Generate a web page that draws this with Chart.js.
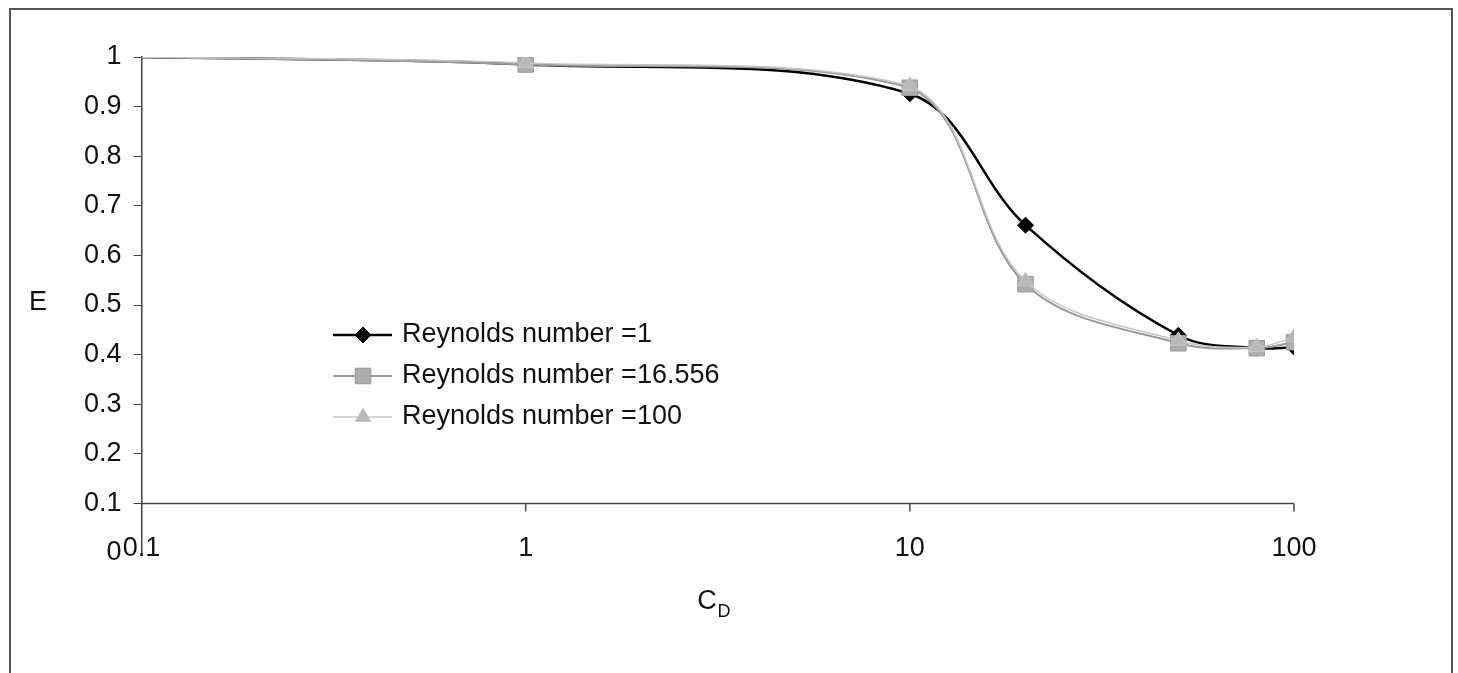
<!DOCTYPE html>
<html>
<head>
<meta charset="utf-8">
<script src="https://cdn.jsdelivr.net/npm/chart.js@4/dist/chart.umd.min.js"></script>
<style>
  html, body { margin: 0; padding: 0; background: #fff; }
  #wrap { position: relative; width: 1458px; height: 673px; overflow: hidden; }
  #frame { position: absolute; left: 9px; top: 8px; width: 1444px; height: 700px;
           border: 2px solid #555; box-sizing: border-box; pointer-events: none; }
</style>
</head>
<body>
<div id="wrap">
  <canvas id="chart" width="1458" height="673"></canvas>
  <div id="frame"></div>
</div>
<script>
// données
const cdValues = [0.1, 1, 10, 20, 50, 80, 100];
const eRe1 = [1, 0.985, 0.926, 0.661, 0.439, 0.413, 0.415];
const eRe16 = [1, 0.985, 0.938, 0.542, 0.423, 0.413, 0.425];
const eRe100 = [1, 0.988, 0.942, 0.548, 0.428, 0.415, 0.435];
const seriesNames = ['Reynolds number =1', 'Reynolds number =16.556', 'Reynolds number =100'];
const xTickValues = [0.1, 1, 10, 100];
const yAxisTitle = 'E';
const xAxisTitle = 'C';
const xAxisSub = 'D';

const FONT = '"Liberation Sans", Arial, sans-serif';

function toPoints(ys) {
    return cdValues.map((x, i) => ({ x: x, y: ys[i] }));
}

// pas de marqueur au premier point (caché par l'axe)
function markerRadius(r) {
    return ctx => ctx.dataIndex === 0 ? 0 : r;
}

const datasets = [
    {
        label: seriesNames[0],
        data: toPoints(eRe1),
        borderColor: '#000',
        backgroundColor: '#000',
        borderWidth: 2.5,
        pointStyle: 'rectRot',
        pointRadius: markerRadius(8),
        pointBorderWidth: 1,
        legendRadius: 8,
        order: 3
    },
    {
        label: seriesNames[1],
        data: toPoints(eRe16),
        borderColor: '#9a9a9a',
        backgroundColor: '#adadad',
        borderWidth: 2,
        pointStyle: 'rect',
        pointRadius: markerRadius(11),
        pointBorderWidth: 1,
        legendRadius: 11,
        order: 2
    },
    {
        label: seriesNames[2],
        data: toPoints(eRe100),
        borderColor: '#c6c6c6',
        backgroundColor: '#b8b8b8',
        borderWidth: 1.5,
        pointStyle: 'triangle',
        pointRadius: markerRadius(9),
        pointBorderWidth: 1,
        legendRadius: 9,
        order: 1
    }
];

// axe horizontal qui coupe à E = 0.1, étiquettes en bas (niveau E = 0)
const crossAxisPlugin = {
    id: 'crossAxis',
    beforeDatasetsDraw(chart) {
        const ctx = chart.ctx;
        const xs = chart.scales.x, ys = chart.scales.y;
        const y = ys.getPixelForValue(0.1);
        ctx.save();
        ctx.strokeStyle = '#444';
        ctx.lineWidth = 1.5;
        ctx.beginPath();
        ctx.moveTo(xs.getPixelForValue(xTickValues[0]), y);
        ctx.lineTo(xs.getPixelForValue(xTickValues[xTickValues.length - 1]), y);
        xTickValues.slice(1).forEach(v => {
            const px = xs.getPixelForValue(v);
            ctx.moveTo(px, y);
            ctx.lineTo(px, y + 8);
        });
        ctx.stroke();

        ctx.fillStyle = '#111';
        ctx.font = '27px ' + FONT;
        ctx.textAlign = 'center';
        ctx.textBaseline = 'middle';
        const ly = ys.getPixelForValue(0) - 4;
        xs.ticks.forEach(t => {
            ctx.fillText(String(t.value), xs.getPixelForValue(t.value), ly);
        });
        ctx.restore();
    }
};

// légende dans la zone du graphique + titres d'axes
const legendPlugin = {
    id: 'insideLegend',
    afterDraw(chart) {
        const ctx = chart.ctx;
        ctx.save();
        chart.data.datasets.forEach((ds, i) => {
            const y = 335 + i * 41;
            ctx.strokeStyle = ds.borderColor;
            ctx.lineWidth = ds.borderWidth;
            ctx.beginPath();
            ctx.moveTo(333, y);
            ctx.lineTo(392, y);
            ctx.stroke();
            ctx.fillStyle = ds.backgroundColor;
            ctx.lineWidth = 1;
            Chart.helpers.drawPoint(ctx, {
                pointStyle: ds.pointStyle, rotation: 0,
                radius: ds.legendRadius, borderWidth: 1
            }, 363, y);
            ctx.fillStyle = '#111';
            ctx.font = '27px ' + FONT;
            ctx.textBaseline = 'middle';
            ctx.textAlign = 'left';
            ctx.fillText(ds.label, 402, y);
        });

        ctx.fillStyle = '#111';
        ctx.font = '27px ' + FONT;
        ctx.textAlign = 'center';
        ctx.textBaseline = 'middle';
        ctx.fillText(yAxisTitle, 38, 303);
        ctx.fillText(xAxisTitle, 707, 602);
        ctx.font = '18px ' + FONT;
        ctx.fillText(xAxisSub, 724, 612);
        ctx.restore();
    }
};

new Chart(document.getElementById('chart'), {
    type: 'line',
    data: { datasets: datasets },
    options: {
        responsive: false,
        animation: false,
        layout: { padding: { left: 72, right: 164, top: 57, bottom: 112 } },
        plugins: {
            legend: { display: false },
            tooltip: { enabled: false }
        },
        elements: {
            line: { tension: 0.35, fill: false }
        },
        scales: {
            x: {
                type: 'logarithmic',
                min: 0.1,
                max: 100,
                afterBuildTicks: scale => {
                    scale.ticks = xTickValues.map(v => ({ value: v }));
                },
                grid: { display: false },
                border: { display: false },
                ticks: { display: false }
            },
            y: {
                min: 0,
                max: 1,
                grid: {
                    drawOnChartArea: false,
                    drawTicks: true,
                    tickLength: 8,
                    tickColor: ctx => ctx.tick && ctx.tick.value === 0 ? 'rgba(0,0,0,0)' : '#444'
                },
                border: { display: true, color: '#444', width: 1.5 },
                ticks: {
                    stepSize: 0.1,
                    padding: 12,
                    color: '#111',
                    font: { family: FONT, size: 27 },
                    callback: v => String(Number(v.toFixed(1)))
                }
            }
        }
    },
    plugins: [crossAxisPlugin, legendPlugin]
});
</script>
</body>
</html>
